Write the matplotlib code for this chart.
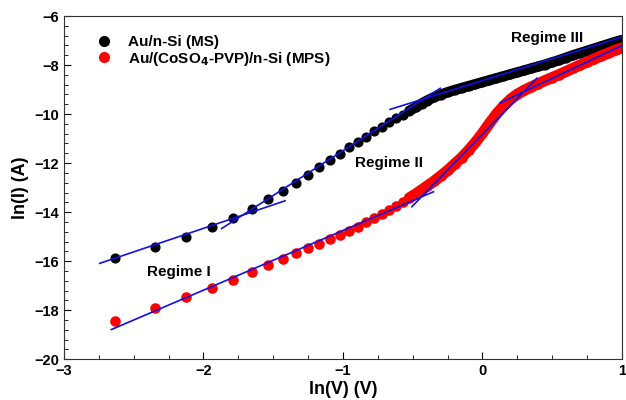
import matplotlib
matplotlib.use("Agg")
import matplotlib.pyplot as plt
from matplotlib.ticker import MultipleLocator
from matplotlib.lines import Line2D
import numpy as np

plt.rcParams["font.family"] = ["Liberation Sans", "DejaVu Sans"]
plt.rcParams["font.weight"] = "bold"

# ln(V) values shared by both samples
ln_v = [-2.635, -2.349, -2.126, -1.941, -1.788, -1.654, -1.535, -1.432,
        -1.337, -1.248, -1.169, -1.093, -1.021, -0.954, -0.890, -0.834,
        -0.777, -0.722, -0.667, -0.619, -0.571, -0.524, -0.478, -0.435,
        -0.40, -0.35, -0.30, -0.25, -0.20, -0.15, -0.10, -0.05, 0.00,
        0.05, 0.10, 0.15, 0.20, 0.25, 0.30, 0.35, 0.40, 0.45, 0.50,
        0.55, 0.60, 0.65, 0.70, 0.75, 0.80, 0.85, 0.90, 0.95, 1.00]

# Au/n-Si (MS)
ln_i_ms = [-15.89, -15.44, -15.02, -14.62, -14.24, -13.87, -13.48, -13.13,
           -12.80, -12.49, -12.18, -11.88, -11.63, -11.36, -11.13, -10.93,
           -10.71, -10.52, -10.34, -10.18, -10.04, -9.87, -9.72, -9.57,
           -9.46, -9.32, -9.21, -9.11, -9.02, -8.94, -8.86, -8.78, -8.70,
           -8.62, -8.54, -8.46, -8.38, -8.30, -8.22, -8.14, -8.06, -7.98,
           -7.89, -7.80, -7.70, -7.60, -7.51, -7.42, -7.33, -7.24, -7.15,
           -7.06, -6.98]

# Au/(CoSO4-PVP)/n-Si (MPS)
ln_i_mps = [-18.45, -17.93, -17.48, -17.09, -16.75, -16.44, -16.16, -15.93,
            -15.66, -15.46, -15.29, -15.11, -14.94, -14.75, -14.59, -14.42,
            -14.24, -14.07, -13.90, -13.74, -13.58, -13.42, -13.26, -13.09,
            -12.95, -12.75, -12.53, -12.30, -12.04, -11.78, -11.48, -11.15,
            -10.78, -10.38, -10.00, -9.68, -9.40, -9.19, -9.03, -8.89,
            -8.76, -8.63, -8.51, -8.39, -8.26, -8.13, -8.00, -7.88, -7.75,
            -7.63, -7.52, -7.40, -7.30]

# linear fits per regime: (x0, x1, y0, y1)
fits = [
    (-2.743, -1.415, -16.09, -13.54),   # MS regime I
    (-1.869, -0.303, -14.67, -8.95),    # MS regime II
    (-0.662, 1.008, -9.81, -6.84),      # MS regime III
    (-2.659, -0.351, -18.79, -13.17),   # MPS regime I
    (-0.506, 0.390, -13.78, -8.54),     # MPS regime II
    (0.127, 1.008, -9.54, -7.18),       # MPS regime III
]

regime_labels = ["Regime I", "Regime II", "Regime III"]
regime_pos = [(-2.174, -16.44), (-0.669, -12.01), (0.46, -6.91)]

x = np.array(ln_v)
ms = np.array(ln_i_ms)
mps = np.array(ln_i_mps)
dense = x >= -0.53

fig = plt.figure(figsize=(6.26, 4.0), dpi=100)
ax = fig.add_axes([0.102, 0.102, 0.8916, 0.858])

ax.plot(x[dense], ms[dense], color="black", lw=7.5, solid_capstyle="round", zorder=2)
ax.plot(x, ms, "o", color="black", ms=6.3, zorder=2)
ax.plot(x[dense], mps[dense], color="#ff0000", lw=8, solid_capstyle="round", zorder=2)
ax.plot(x, mps, "o", color="#ff0000", ms=6.6, zorder=2)

for x0, x1, y0, y1 in fits:
    ax.plot([x0, x1], [y0, y1], color="#1010e0", lw=1.2, zorder=3)

for lab, (tx, ty) in zip(regime_labels, regime_pos):
    ax.text(tx, ty, lab, ha="center", va="center", fontsize=11, fontweight="bold")

ax.set_xlim(-3, 1)
ax.set_ylim(-20, -6)
ax.xaxis.set_major_locator(MultipleLocator(1))
ax.xaxis.set_minor_locator(MultipleLocator(0.25))
ax.yaxis.set_major_locator(MultipleLocator(2))
ax.yaxis.set_minor_locator(MultipleLocator(0.4))
ax.tick_params(which="both", direction="in", labelsize=10.5)
ax.tick_params(which="major", length=5)
ax.tick_params(which="minor", length=3)
for lbl in ax.get_xticklabels() + ax.get_yticklabels():
    lbl.set_fontweight("bold")
for sp in ax.spines.values():
    sp.set_color("#333333")

ax.set_xlabel("ln(V) (V)", fontsize=13, fontweight="bold", labelpad=2)
ax.set_ylabel("ln(I) (A)", fontsize=13, fontweight="bold", labelpad=4)

handles = [
    Line2D([], [], ls="none", marker="o", color="black", ms=7),
    Line2D([], [], ls="none", marker="o", color="#ff0000", ms=7),
]
ax.legend(handles, ["Au/n-Si (MS)", r"Au/(CoSO$_\mathbf{4}$-PVP)/n-Si (MPS)"],
          loc="upper left", bbox_to_anchor=(0.02, 0.985), frameon=False,
          prop={"weight": "bold", "size": 11}, handletextpad=0.6,
          labelspacing=0.05)

fig.savefig("out.png", dpi=100)
